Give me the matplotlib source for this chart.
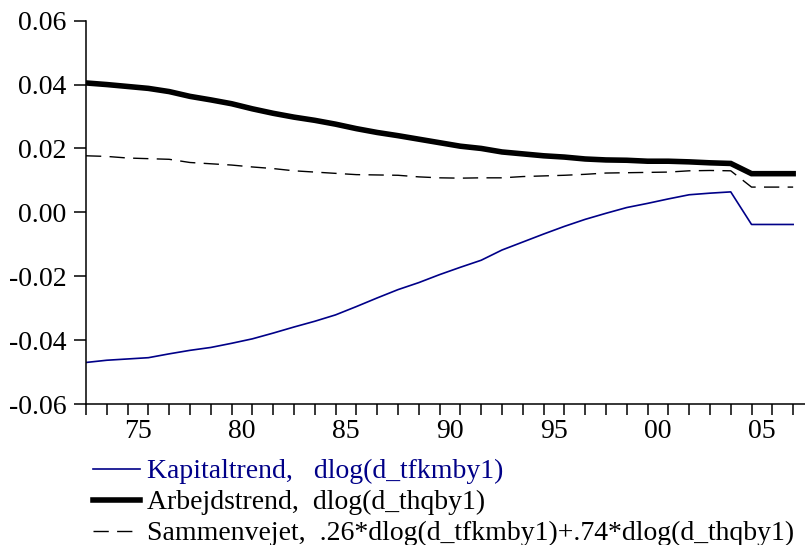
import matplotlib
matplotlib.use("Agg")
import matplotlib.pyplot as plt
import numpy as np

years = np.arange(1973, 2008)

kapital = [-0.0470, -0.0463, -0.0459, -0.0455, -0.0443, -0.0432, -0.0423, -0.0410,
           -0.0396, -0.0378, -0.0359, -0.0341, -0.0321, -0.0295, -0.0268, -0.0242,
           -0.0220, -0.0195, -0.0172, -0.0150, -0.0118, -0.0093, -0.0068, -0.0044,
           -0.0022, -0.0003, 0.0015, 0.0028, 0.0042, 0.0055, 0.0060, 0.0064,
           -0.0038, -0.0038, -0.0038]

arbejd = [0.0405, 0.0400, 0.0394, 0.0388, 0.0378, 0.0363, 0.0352, 0.0340,
          0.0324, 0.0310, 0.0298, 0.0288, 0.0276, 0.0262, 0.0250, 0.0240,
          0.0229, 0.0218, 0.0207, 0.0200, 0.0189, 0.0183, 0.0177, 0.0173,
          0.0167, 0.0164, 0.0163, 0.0160, 0.0160, 0.0158, 0.0155, 0.0153,
          0.0121, 0.0121, 0.0121]

samlet = [0.0177, 0.0175, 0.0170, 0.0168, 0.0166, 0.0156, 0.0152, 0.0148,
          0.0142, 0.0137, 0.0130, 0.0126, 0.0122, 0.0118, 0.0117, 0.0116,
          0.0111, 0.0108, 0.0107, 0.0108, 0.0108, 0.0112, 0.0114, 0.0116,
          0.0119, 0.0123, 0.0124, 0.0125, 0.0126, 0.0130, 0.0131, 0.0130,
          0.0079, 0.0079, 0.0079]

label_years = [1975, 1980, 1985, 1990, 1995, 2000, 2005]
label_text = ["75", "80", "85", "90", "95", "00", "05"]
yticks = [-0.06, -0.04, -0.02, 0.00, 0.02, 0.04, 0.06]
ytick_text = ["-0.06", "-0.04", "-0.02", "0.00", "0.02", "0.04", "0.06"]

legend_labels = ["Kapitaltrend,   dlog(d_tfkmby1)",
                 "Arbejdstrend,  dlog(d_thqby1)",
                 "Sammenvejet,  .26*dlog(d_tfkmby1)+.74*dlog(d_thqby1)"]

blue = "#000088"

plt.rcParams["font.family"] = ["Liberation Serif", "DejaVu Serif"]
plt.rcParams["font.size"] = 20

fig = plt.figure(figsize=(8.05, 5.45), dpi=100)
ax = fig.add_axes([0.1068, 0.2587, 0.8932, 0.7034])

l1, = ax.plot(years, kapital, color=blue, lw=1.2)
l2, = ax.plot(years, arbejd, color="black", lw=4.0, solid_joinstyle="miter")
l3, = ax.plot(years, samlet, color="black", lw=1.0, dashes=(11, 6))

ax.set_xlim(1973, 2007.57)
ax.set_ylim(-0.06, 0.06)

ax.set_xticks(years)
ax.set_xticklabels([])
ax.set_xticks([y + 0.5 for y in label_years], minor=True)
ax.set_xticklabels(label_text, minor=True)
ax.tick_params(axis="x", which="major", length=8, width=1.1, direction="out")
ax.tick_params(axis="x", which="minor", length=0, pad=11)

ax.set_yticks(yticks)
ax.set_yticklabels(ytick_text)
ax.tick_params(axis="y", length=9, width=1.1, direction="out", pad=5)

for side in ["top", "right"]:
    ax.spines[side].set_visible(False)
for side in ["left", "bottom"]:
    ax.spines[side].set_linewidth(1.1)

leg = fig.legend([l1, l2, l3], legend_labels, loc="upper left",
                 bbox_to_anchor=(0.1155, 0.158), frameon=False,
                 handlelength=1.69, handletextpad=0.27, labelspacing=0.2,
                 borderaxespad=0, borderpad=0)
leg.get_texts()[0].set_color(blue)

fig.savefig("out.png", dpi=100)
